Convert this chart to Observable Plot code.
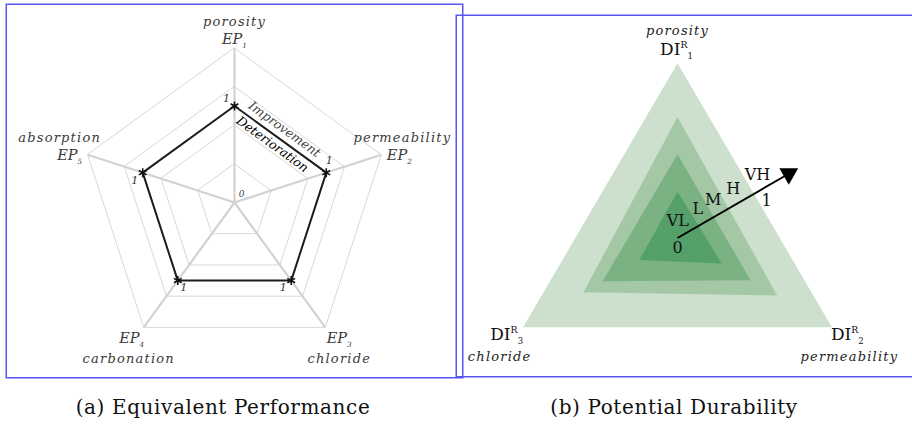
<!DOCTYPE html>
<html><head><meta charset="utf-8">
<script src="https://cdn.jsdelivr.net/npm/d3@7"></script>
<script src="https://cdn.jsdelivr.net/npm/@observablehq/plot@0.6"></script>
<style>
html,body{margin:0;padding:0;background:#fff;}
#root{position:relative;width:912px;height:424px;overflow:hidden;background:#fff;}
.panel{position:absolute;}
.panel svg{max-width:none !important;}
.cap{position:absolute;top:396px;font-family:"DejaVu Serif",serif;font-size:20px;letter-spacing:0.6px;color:#111;white-space:nowrap;transform:translateX(-50%);line-height:22px;}
</style></head><body>
<div id="root">
 <div id="left" class="panel" style="left:5px;top:3px;width:458px;height:375px"></div>
 <div id="right" class="panel" style="left:455px;top:14px;width:470px;height:363px"></div>
 <div class="cap" style="left:223px">(a) Equivalent Performance</div>
 <div class="cap" style="left:674px">(b) Potential Durability</div>
</div>
<script>
// ---------- data: (a) Equivalent Performance ----------
const epNames = ["porosity", "permeability", "chloride", "carbonation", "absorption"];
const epCodes = ["EP_1", "EP_2", "EP_3", "EP_4", "EP_5"];
const epValues = [1, 1, 1, 1, 1];
const epRings = [0.4, 0.8, 1.2, 1.6];
const epTickLabels = ["1", "1", "1", "1", "1"];
const epZeroLabel = "0";
const edgeLabels = ["Improvement", "Deterioration"];

// ---------- data: (b) Potential Durability ----------
const diNames = ["porosity", "permeability", "chloride"];
const diCodes = ["DI^R_1", "DI^R_2", "DI^R_3"];
const diLayers = ["VH", "H", "M", "L"];
const diLayerValues = [
  [0.99, 1.01, 1.01],
  [0.686, 0.652, 0.615],
  [0.474, 0.478, 0.49],
  [0.262, 0.29, 0.25]
];
const levelLabels = ["VL", "L", "M", "H", "VH"];
const arrowTickLabels = ["0", "1"];

// ---------- layout / style ----------
const FONT = "DejaVu Serif";
const BORDER = "#5656f0";
const spacing = new Map([["porosity", 1.2], ["permeability", 1.2], ["chloride", 1.2], ["carbonation", 1.2], ["absorption", 1.2]]);

function rich(svg) {
  d3.select(svg).selectAll("text").each(function () {
    const el = d3.select(this);
    const s = this.textContent;
    if (spacing.has(s)) el.attr("letter-spacing", spacing.get(s));
    const m = /^([^_^]+)(?:\^([^_]+))?(?:_(.+))?$/.exec(s);
    if (!m || (!m[2] && !m[3])) return;
    const fs = parseFloat(getComputedStyle(this).fontSize) || 16;
    el.text(null);
    el.append("tspan").text(m[1]);
    if (m[2]) el.append("tspan").attr("font-size", fs * 0.55).attr("dy", -fs * 0.42).text(m[2]);
    if (m[3]) el.append("tspan").attr("font-size", fs * 0.5).attr("dy", m[2] ? fs * 0.66 : fs * 0.28).text(m[3]);
  });
}

// ===== Panel (a) =====
{
  const U = 96.5, W = 458, H = 375, CX = 229, CY = 199;
  const ang = i => i * 2 * Math.PI / epNames.length;
  const P = (r, i, dx = 0, dy = 0) => ({x: r * Math.sin(ang(i)) + dx / U, y: r * Math.cos(ang(i)) - dy / U});
  const rMax = epRings[epRings.length - 1];
  const ringData = epRings.flatMap(r => epNames.map((_, i) => ({ring: r, ...P(r, i)})));
  const spokeData = epNames.map((_, i) => ({x1: 0, y1: 0, x2: P(rMax, i).x, y2: P(rMax, i).y}));
  const polyData = epValues.map((v, i) => P(v, i));
  const nameOff = [[0, -26], [21, -17], [14, 31], [-15, 31], [-28, -17]];
  const codeOff = [[0, -9], [18, 1], [14, 11], [-12, 11], [-18, 1]];
  const tickOff = [[-8, -8], [3, -12], [-8, 7], [6, 7], [-8, 8]];
  const names = epNames.map((t, i) => ({t, ...P(rMax, i, ...nameOff[i])}));
  const codes = epCodes.map((t, i) => ({t, ...P(rMax, i, ...codeOff[i])}));
  const ticks = epTickLabels.map((t, i) => ({t, ...P(epValues[i], i, ...tickOff[i])}));
  const a = P(epValues[0], 0), b = P(epValues[1], 1);
  const mid = {x: (a.x + b.x) / 2, y: (a.y + b.y) / 2};
  const rot = Math.atan2(a.y - b.y, b.x - a.x) * 180 / Math.PI;

  const svg = Plot.plot({
    width: W, height: H, margin: 0,
    x: {domain: [-CX / U, (W - CX) / U], axis: null},
    y: {domain: [-(H - CY) / U, CY / U], axis: null},
    style: {background: "transparent", overflow: "visible", maxWidth: "none"},
    marks: [
      Plot.frame({stroke: BORDER, strokeWidth: 1.5, inset: 0.75}),
      Plot.line(ringData, {x: "x", y: "y", z: "ring", curve: "linear-closed", stroke: "#d8d8d8", strokeWidth: 1}),
      Plot.link(spokeData, {x1: "x1", y1: "y1", x2: "x2", y2: "y2", stroke: "#d2d2d2", strokeWidth: 2.2}),
      Plot.line(polyData, {x: "x", y: "y", curve: "linear-closed", stroke: "#1c1c1c", strokeWidth: 2}),
      Plot.dot(polyData, {x: "x", y: "y", symbol: "asterisk", r: 4.2, stroke: "#111", strokeWidth: 1.6}),
      Plot.text(names, {x: "x", y: "y", text: "t", fontFamily: FONT, fontStyle: "italic", fontSize: 13, fill: "#3a3a3a"}),
      Plot.text(codes, {x: "x", y: "y", text: "t", fontFamily: FONT, fontStyle: "italic", fontSize: 14.5, fill: "#3a3a3a"}),
      Plot.text(ticks, {x: "x", y: "y", text: "t", fontFamily: FONT, fontStyle: "italic", fontSize: 11, fill: "#333"}),
      Plot.text([epZeroLabel], {x: () => 0, y: () => 0, text: d => d, dx: 7, dy: -8, fontFamily: FONT, fontStyle: "italic", fontSize: 9, fill: "#444"}),
      Plot.text([edgeLabels[0]], {x: () => mid.x, y: () => mid.y, text: d => d, dx: 4, dy: -10, rotate: rot, fontFamily: FONT, fontStyle: "italic", fontSize: 12.5, fill: "#444"}),
      Plot.text([edgeLabels[1]], {x: () => mid.x, y: () => mid.y, text: d => d, dx: -8, dy: 5, rotate: rot, fontFamily: FONT, fontStyle: "italic", fontSize: 12.5, fill: "#000"})
    ]
  });
  document.getElementById("left").appendChild(svg);
  rich(svg);
}

// ===== Panel (b) =====
{
  const U = 176.5, W = 470, H = 363, CX = 222, CY = 223.5;
  const deg = i => (90 - 120 * i) * Math.PI / 180;
  const P = (r, i, dx = 0, dy = 0) => ({x: r * Math.cos(deg(i)) + dx / U, y: r * Math.sin(deg(i)) - dy / U});
  const fills = ["#cddfcd", "#a4c8a6", "#7bb284", "#549f6a"];
  const layerMarks = diLayerValues.map((vals, k) =>
    Plot.line(vals.map((v, i) => P(v, i)), {x: "x", y: "y", curve: "linear-closed", fill: fills[k], stroke: "none"}));
  const th = 30 * Math.PI / 180;
  const A = (t, n) => ({x: (t * Math.cos(th) - n * Math.sin(th)) / U, y: (t * Math.sin(th) + n * Math.cos(th)) / U});
  const levelT = [9, 32, 50, 73, 101];
  const levels = levelLabels.map((t, i) => ({t, ...A(levelT[i], 15)}));
  const aticks = [{t: arrowTickLabels[0], ...A(-5, -9)}, {t: arrowTickLabels[1], ...A(96, -12)}];
  const e = A(130, 0);
  const shaft = [{x1: 0, y1: 0, x2: e.x, y2: e.y}];
  const head = [A(128.5, 0)];
  const nameOff = [[0, -31], [19, 31], [-25, 31]];
  const codeOff = [[-1, -12], [17, 8], [-18, 8]];
  const names = diNames.map((t, i) => ({t, ...P(1, i, ...nameOff[i])}));
  const codes = diCodes.map((t, i) => ({t, ...P(1, i, ...codeOff[i])}));

  const svg = Plot.plot({
    width: W, height: H, margin: 0,
    x: {domain: [-CX / U, (W - CX) / U], axis: null},
    y: {domain: [-(H - CY) / U, CY / U], axis: null},
    style: {background: "transparent", overflow: "visible", maxWidth: "none"},
    marks: [
      Plot.frame({stroke: BORDER, strokeWidth: 1.5, inset: 0.75}),
      ...layerMarks,
      Plot.link(shaft, {x1: "x1", y1: "y1", x2: "x2", y2: "y2", stroke: "#000", strokeWidth: 2}),
      Plot.dot(head, {x: "x", y: "y", symbol: "triangle", r: 7, fill: "#000", stroke: "none", rotate: 60}),
      Plot.text(levels, {x: "x", y: "y", text: "t", fontFamily: FONT, fontSize: 16, fill: "#111"}),
      Plot.text(aticks, {x: "x", y: "y", text: "t", fontFamily: FONT, fontSize: 16, fill: "#111"}),
      Plot.text(names, {x: "x", y: "y", text: "t", fontFamily: FONT, fontStyle: "italic", fontSize: 13, fill: "#222"}),
      Plot.text(codes, {x: "x", y: "y", text: "t", fontFamily: FONT, fontSize: 17, fill: "#111"})
    ]
  });
  document.getElementById("right").appendChild(svg);
  rich(svg);
}
</script>
</body></html>
